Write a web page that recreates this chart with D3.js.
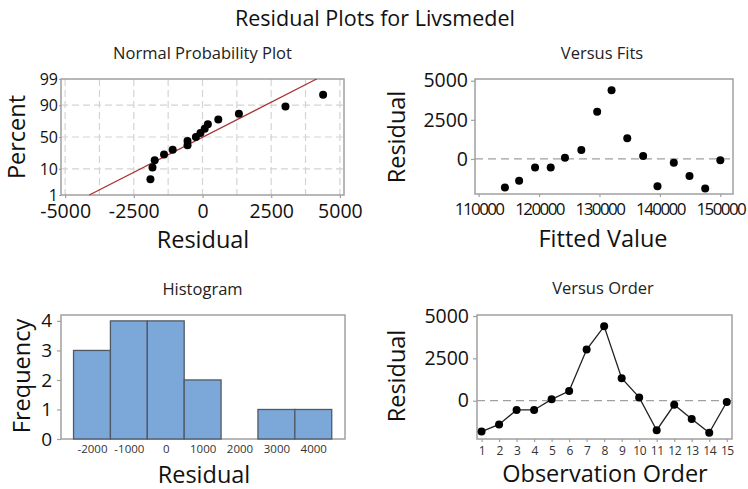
<!DOCTYPE html>
<html><head><meta charset="utf-8">
<script src="https://cdn.jsdelivr.net/npm/d3@7"></script>
<style>
body{margin:0;background:#fff;}
svg{display:block;font-family:"Open Sans",sans-serif;}
</style></head>
<body><svg id="c" width="748" height="489"></svg>
<script>
// ---- data ----
const observationOrder = [1,2,3,4,5,6,7,8,9,10,11,12,13,14,15];
const residuals = [-1820,-1400,-545,-545,80,575,3020,4390,1325,195,-1740,-240,-1085,-1895,-75];
const fittedValues = [114350,116700,119340,121930,124290,127000,129620,132000,134600,137230,139600,142300,144900,147500,150000];
const histCenters = [-2000,-1000,0,1000,2000,3000,4000];
const histCounts = [3,4,4,2,0,1,1];
const percentTicks = [1,10,50,90,99];
const residualTicks = [-5000,-2500,0,2500,5000];
const residualGrid = [-5000,-3750,-2500,-1250,0,1250,2500,3750,5000];
const fitTicks = [110000,120000,130000,140000,150000];
const residYTicks = [0,2500,5000];
const freqTicks = [0,1,2,3,4];

// inverse normal CDF (Acklam)
function probit(p){
  const a=[-3.969683028665376e+01,2.209460984245205e+02,-2.759285104469687e+02,1.383577518672690e+02,-3.066479806614716e+01,2.506628277459239e+00];
  const b=[-5.447609879822406e+01,1.615858368580409e+02,-1.556989798598866e+02,6.680131188771972e+01,-1.328068155288572e+01];
  const c=[-7.784894002430293e-03,-3.223964580411365e-01,-2.400758277161838e+00,-2.549732539343734e+00,4.374664141464968e+00,2.938163982698783e+00];
  const d=[7.784695709041462e-03,3.224671290700398e-01,2.445134137142996e+00,3.754408661907416e+00];
  const pl=0.02425;
  if(p<pl){const q=Math.sqrt(-2*Math.log(p));return (((((c[0]*q+c[1])*q+c[2])*q+c[3])*q+c[4])*q+c[5])/((((d[0]*q+d[1])*q+d[2])*q+d[3])*q+1);}
  if(p>1-pl){const q=Math.sqrt(-2*Math.log(1-p));return -(((((c[0]*q+c[1])*q+c[2])*q+c[3])*q+c[4])*q+c[5])/((((d[0]*q+d[1])*q+d[2])*q+d[3])*q+1);}
  const q=p-0.5,r=q*q;
  return (((((a[0]*r+a[1])*r+a[2])*r+a[3])*r+a[4])*r+a[5])*q/(((((b[0]*r+b[1])*r+b[2])*r+b[3])*r+b[4])*r+1);
}

const svg = d3.select("#c");
const FRAME = "#a0a0a0", TEXT = "#111";
const fmt = d => String(d); // plain hyphen for negatives

svg.append("text").attr("x",375).attr("y",26).attr("text-anchor","middle")
  .attr("font-size",21.5).attr("fill",TEXT).text("Residual Plots for Livsmedel");

function frame(p){
  svg.append("rect").attr("x",p.x0).attr("y",p.y0).attr("width",p.x1-p.x0).attr("height",p.y1-p.y0)
    .attr("fill","none").attr("stroke",FRAME).attr("stroke-width",1.5);
}
function styleAxis(g,fs){
  g.select(".domain").remove();
  g.selectAll(".tick line").attr("stroke",FRAME).attr("stroke-width",1.2);
  g.selectAll(".tick text").attr("font-size",fs).attr("fill",TEXT).attr("font-family","Open Sans, sans-serif");
}
function subTitle(x,y,t){
  svg.append("text").attr("x",x).attr("y",y).attr("text-anchor","middle").attr("font-size",16.5).attr("fill","#222").text(t);
}
function xLabel(x,y,t){
  svg.append("text").attr("x",x).attr("y",y).attr("text-anchor","middle").attr("font-size",23.5).attr("fill",TEXT).text(t);
}
function yLabel(x,y,t){
  svg.append("text").attr("transform",`translate(${x},${y}) rotate(-90)`).attr("text-anchor","middle")
    .attr("font-size",23.5).attr("fill",TEXT).text(t);
}

// ---------- Panel 1: Normal probability plot ----------
{
  const p={x0:61,x1:344,y0:79,y1:195};
  const x=d3.scaleLinear().domain([-5150,5150]).range([p.x0,p.x1]);
  const y=d3.scaleLinear().domain([probit(0.01),probit(0.99)]).range([p.y1,p.y0]);
  const grid=svg.append("g");
  grid.selectAll("line.v").data(residualGrid).join("line")
    .attr("x1",d=>x(d)).attr("x2",d=>x(d)).attr("y1",p.y0).attr("y2",p.y1)
    .attr("stroke","#d4d4d4").attr("stroke-dasharray","7,4").attr("stroke-width",1.2);
  grid.selectAll("line.h").data([10,50,90]).join("line")
    .attr("x1",p.x0).attr("x2",p.x1).attr("y1",d=>y(probit(d/100))).attr("y2",d=>y(probit(d/100)))
    .attr("stroke","#d4d4d4").attr("stroke-dasharray","7,4").attr("stroke-width",1.2);
  frame(p);
  const gx=svg.append("g").attr("transform",`translate(0,${p.y1})`)
    .call(d3.axisBottom(x).tickValues(residualTicks).tickSize(3).tickPadding(6).tickFormat(fmt));
  styleAxis(gx,19.5);
  const gy=svg.append("g").attr("transform",`translate(${p.x0},0)`)
    .call(d3.axisLeft(y).tickValues(percentTicks.map(d=>probit(d/100))).tickSize(2).tickPadding(1)
      .tickFormat((d,i)=>percentTicks[i]));
  styleAxis(gy,16);
  // fitted normal line
  const m=d3.mean(residuals), s=d3.deviation(residuals);
  const zl=probit(0.01), zh=probit(0.99);
  svg.append("line").attr("x1",x(m+s*zl)).attr("y1",y(zl)).attr("x2",x(m+s*zh)).attr("y2",y(zh))
    .attr("stroke","#a83232").attr("stroke-width",1.3);
  const sorted=residuals.slice().sort(d3.ascending), n=sorted.length;
  svg.append("g").selectAll("circle").data(sorted).join("circle")
    .attr("cx",d=>x(d)).attr("cy",(d,i)=>y(probit((i+1-0.3)/(n+0.4)))).attr("r",4).attr("fill","#000");
  subTitle(202.5,59,"Normal Probability Plot");
  xLabel(203,248,"Residual");
  yLabel(25,137,"Percent");
}

// ---------- Panel 2: Versus Fits ----------
{
  const p={x0:475,x1:733,y0:79,y1:194};
  const x=d3.scaleLinear().domain([109400,152100]).range([p.x0,p.x1]);
  const y=d3.scaleLinear().domain([-2240,5110]).range([p.y1,p.y0]);
  svg.append("line").attr("x1",p.x0).attr("x2",p.x1).attr("y1",y(0)).attr("y2",y(0))
    .attr("stroke","#a0a0a0").attr("stroke-dasharray","8,5").attr("stroke-width",1.3);
  frame(p);
  const gx=svg.append("g").attr("transform",`translate(0,${p.y1})`)
    .call(d3.axisBottom(x).tickValues(fitTicks).tickSize(3).tickPadding(6).tickFormat(fmt));
  styleAxis(gx,17);
  gx.selectAll(".tick text").attr("letter-spacing",-1.6);
  const gy=svg.append("g").attr("transform",`translate(${p.x0},0)`)
    .call(d3.axisLeft(y).tickValues(residYTicks).tickSize(4).tickPadding(3).tickFormat(fmt));
  styleAxis(gy,19.5);
  svg.append("g").selectAll("circle").data(residuals).join("circle")
    .attr("cx",(d,i)=>x(fittedValues[i])).attr("cy",d=>y(d)).attr("r",4).attr("fill","#000");
  subTitle(602,59,"Versus Fits");
  xLabel(603,247,"Fitted Value");
  yLabel(405,137,"Residual");
}

// ---------- Panel 3: Histogram ----------
{
  const p={x0:61,x1:345,y0:315,y1:439};
  const x=d3.scaleLinear().domain([-2840,4860]).range([p.x0,p.x1]);
  const y=d3.scaleLinear().domain([0,4.2]).range([p.y1,p.y0]);
  frame(p);
  svg.append("g").selectAll("rect").data(histCounts).join("rect")
    .attr("x",(d,i)=>x(histCenters[i]-500)).attr("width",(d,i)=>x(histCenters[i]+500)-x(histCenters[i]-500))
    .attr("y",d=>y(d)).attr("height",d=>y(0)-y(d))
    .attr("fill","#7BA7D9").attr("stroke","#4f5a66").attr("stroke-width",1.3);
  const gx=svg.append("g").attr("transform",`translate(0,${p.y1})`)
    .call(d3.axisBottom(x).tickValues(histCenters).tickSize(0).tickPadding(6).tickFormat(fmt));
  styleAxis(gx,11.5);
  gx.selectAll(".tick text").attr("fill","#333");
  const gy=svg.append("g").attr("transform",`translate(${p.x0},0)`)
    .call(d3.axisLeft(y).tickValues(freqTicks).tickSize(4).tickPadding(5).tickFormat(fmt));
  styleAxis(gy,19);
  subTitle(202.5,295,"Histogram");
  xLabel(204,483,"Residual");
  yLabel(30,376,"Frequency");
}

// ---------- Panel 4: Versus Order ----------
{
  const p={x0:477,x1:732,y0:315,y1:439};
  const x=d3.scaleLinear().domain([0.74,15.3]).range([p.x0,p.x1]);
  const y=d3.scaleLinear().domain([-2260,5060]).range([p.y1,p.y0]);
  svg.append("line").attr("x1",p.x0).attr("x2",p.x1).attr("y1",y(0)).attr("y2",y(0))
    .attr("stroke","#a0a0a0").attr("stroke-dasharray","8,5").attr("stroke-width",1.3);
  frame(p);
  const gx=svg.append("g").attr("transform",`translate(0,${p.y1})`)
    .call(d3.axisBottom(x).tickValues(observationOrder).tickSize(3).tickPadding(4).tickFormat(fmt));
  styleAxis(gx,12);
  gx.selectAll(".tick text").attr("fill","#333").attr("letter-spacing",-0.5);
  const gy=svg.append("g").attr("transform",`translate(${p.x0},0)`)
    .call(d3.axisLeft(y).tickValues(residYTicks).tickSize(4).tickPadding(4).tickFormat(fmt));
  styleAxis(gy,19.5);
  const line=d3.line().x((d,i)=>x(observationOrder[i])).y(d=>y(d));
  svg.append("path").datum(residuals).attr("d",line).attr("fill","none").attr("stroke","#222").attr("stroke-width",1.3);
  svg.append("g").selectAll("circle").data(residuals).join("circle")
    .attr("cx",(d,i)=>x(observationOrder[i])).attr("cy",d=>y(d)).attr("r",4).attr("fill","#000");
  subTitle(603,294,"Versus Order");
  xLabel(605,482,"Observation Order");
  yLabel(405,376,"Residual");
}
</script></body></html>
